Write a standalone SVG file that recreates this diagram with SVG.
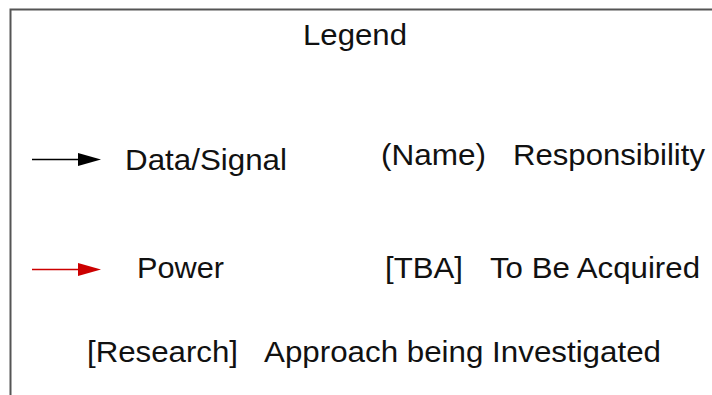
<svg xmlns="http://www.w3.org/2000/svg" width="712" height="395" viewBox="0 0 712 395">
<style>
text{font-family:"Liberation Sans",Arial,sans-serif;font-size:29px;fill:#111}
.ln{stroke-width:1.6;fill:none}
</style>
<rect width="712" height="395" fill="#fff"/>
<path d="M10.5,396 V9.5 H713" fill="none" stroke="#555" stroke-width="2"/>
<text x="355" y="45" text-anchor="middle" textLength="104" lengthAdjust="spacingAndGlyphs">Legend</text>
<g id="connectors">
<line class="ln" x1="32" y1="159.5" x2="80" y2="159.5" stroke="#000"/>
<path d="M78,153 L101,159.5 L78,166 Z" fill="#000"/>
<line class="ln" x1="32" y1="269.5" x2="80" y2="269.5" stroke="#cc0000"/>
<path d="M78,263 L101,269.5 L78,276 Z" fill="#cc0000"/>
</g>
<g id="data"><text x="125" y="170" textLength="162" lengthAdjust="spacingAndGlyphs">Data/Signal</text></g>
<g id="name"><text x="381" y="165" textLength="105" lengthAdjust="spacingAndGlyphs">(Name)</text>
<text x="513" y="165" textLength="192" lengthAdjust="spacingAndGlyphs">Responsibility</text></g>
<g id="power"><text x="137" y="278" textLength="87" lengthAdjust="spacingAndGlyphs">Power</text></g>
<g id="tba"><text x="385" y="278" textLength="78" lengthAdjust="spacingAndGlyphs">[TBA]</text>
<text x="490" y="278" textLength="210" lengthAdjust="spacingAndGlyphs">To Be Acquired</text></g>
<g id="research"><text x="87" y="362" textLength="151" lengthAdjust="spacingAndGlyphs">[Research]</text>
<text x="264" y="362" textLength="397" lengthAdjust="spacingAndGlyphs">Approach being Investigated</text></g>
</svg>
